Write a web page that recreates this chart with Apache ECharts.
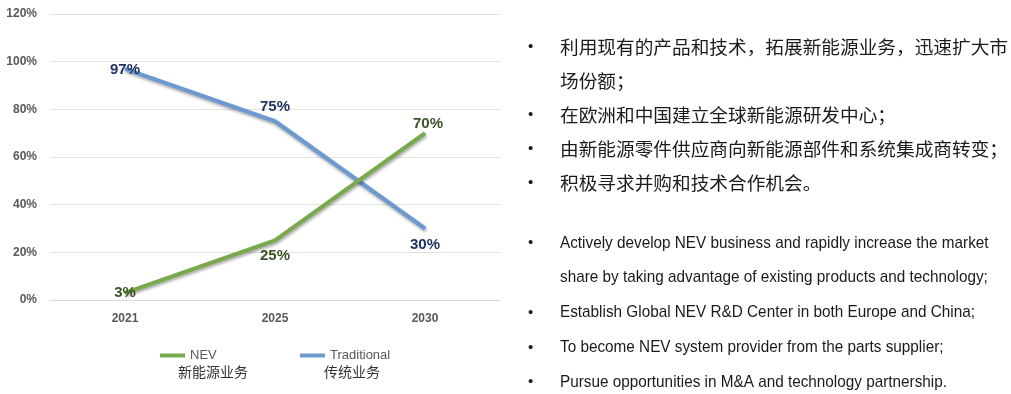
<!DOCTYPE html>
<html>
<head>
<meta charset="utf-8">
<script src="https://cdn.jsdelivr.net/npm/echarts@6/dist/echarts.min.js"></script>
<style>
  html, body { margin: 0; padding: 0; background: #fff; }
  #chart { width: 1011px; height: 394px; }
</style>
</head>
<body>
<div id="chart"></div>
<script>
// Share of business by year (%)
const years = ['2021', '2025', '2030'];
const nevShare = [3, 25, 70];
const traditionalShare = [97, 75, 30];
const yTicks = [0, 20, 40, 60, 80, 100, 120];

const legendCn = { NEV: '新能源业务', Traditional: '传统业务' };

const pointsCn = [
  ['利用现有的产品和技术，拓展新能源业务，迅速扩大市', '场份额；'],
  ['在欧洲和中国建立全球新能源研发中心；'],
  ['由新能源零件供应商向新能源部件和系统集成商转变；'],
  ['积极寻求并购和技术合作机会。']
];
const pointsEn = [
  ['Actively develop NEV business and rapidly increase the market', 'share by taking advantage of existing products and technology;'],
  ['Establish Global NEV R&D Center in both Europe and China;'],
  ['To become NEV system provider from the parts supplier;'],
  ['Pursue opportunities in M&A and technology partnership.']
];

const SANS = '"Liberation Sans", Arial, sans-serif';
const CJK = '"Noto Sans CJK SC", sans-serif';

const chart = echarts.init(document.getElementById('chart'), null, { renderer: 'canvas' });

// label placement around each point: [dx, dy] from the point
const nevLabelShift = [[0, 0], [0, 15], [3, -9]];
const tradLabelShift = [[0, 1], [0, -14], [0, 16]];

function withLabels(values, shifts, color) {
  return values.map((v, i) => ({
    value: v,
    label: {
      show: true,
      position: 'inside',
      offset: shifts[i],
      formatter: '{c}%',
      color: color,
      fontFamily: SANS,
      fontWeight: 'bold',
      fontSize: 15
    }
  }));
}

const lineShadow = {
  shadowColor: 'rgba(0,0,0,0.35)',
  shadowBlur: 3,
  shadowOffsetX: 1,
  shadowOffsetY: 2
};

// bullet texts on the right
const graphics = [];
function addBlock(lines, startY, step, font, size, sx) {
  let y = startY;
  lines.forEach(item => {
    graphics.push({
      type: 'text', x: 528, y: y,
      style: { text: '•', fill: '#1a1a1a', font: '15px ' + SANS, verticalAlign: 'middle' }
    });
    item.forEach(t => {
      graphics.push({
        type: 'text', x: 560, y: y, scaleX: sx,
        style: { text: t, fill: '#1a1a1a', font: size + 'px ' + font, verticalAlign: 'middle' }
      });
      y += step;
    });
  });
}
addBlock(pointsCn, 47, 34, CJK, 18, 1.037);
addBlock(pointsEn, 243, 34.8, SANS, 17, 0.9);

// Chinese legend captions under each entry
graphics.push({
  type: 'text', x: 178, y: 372,
  style: { text: legendCn.NEV, fill: '#333', font: '14px ' + CJK, verticalAlign: 'middle' }
});
graphics.push({
  type: 'text', x: 324, y: 372,
  style: { text: legendCn.Traditional, fill: '#333', font: '14px ' + CJK, verticalAlign: 'middle' }
});

chart.setOption({
  animation: false,
  grid: { left: 50, top: 14, width: 450, height: 286, containLabel: false },
  legend: [
    {
      data: ['NEV'], left: 155, top: 344,
      icon: 'rect', itemWidth: 25, itemHeight: 4, itemGap: 0,
      textStyle: { color: '#595959', fontFamily: SANS, fontSize: 13 }
    },
    {
      data: ['Traditional'], left: 295, top: 344,
      icon: 'rect', itemWidth: 25, itemHeight: 4, itemGap: 0,
      textStyle: { color: '#595959', fontFamily: SANS, fontSize: 13 }
    }
  ],
  xAxis: {
    type: 'category',
    data: years,
    boundaryGap: true,
    axisLine: { show: true, lineStyle: { color: '#d9d9d9', width: 1 } },
    axisTick: { show: false },
    axisLabel: { color: '#595959', fontFamily: SANS, fontWeight: 'bold', fontSize: 12, margin: 13 }
  },
  yAxis: {
    type: 'value',
    min: yTicks[0],
    max: yTicks[yTicks.length - 1],
    interval: yTicks[1] - yTicks[0],
    axisLine: { show: false },
    axisTick: { show: false },
    splitLine: { lineStyle: { color: '#e3e3e3', width: 1 } },
    axisLabel: {
      color: '#595959', fontFamily: SANS, fontWeight: 'bold', fontSize: 12, margin: 13,
      formatter: '{value}%'
    }
  },
  series: [
    {
      name: 'NEV',
      type: 'line',
      data: withLabels(nevShare, nevLabelShift, '#3b5323'),
      symbol: 'circle',
      symbolSize: 1,
      itemStyle: { color: '#78a94b' },
      lineStyle: Object.assign({ color: '#78a94b', width: 4 }, lineShadow),
      z: 3
    },
    {
      name: 'Traditional',
      type: 'line',
      data: withLabels(traditionalShare, tradLabelShift, '#1f3461'),
      symbol: 'circle',
      symbolSize: 1,
      itemStyle: { color: '#6c9ad0' },
      lineStyle: Object.assign({ color: '#6c9ad0', width: 4 }, lineShadow),
      z: 2
    }
  ],
  graphic: graphics
});
</script>
</body>
</html>
